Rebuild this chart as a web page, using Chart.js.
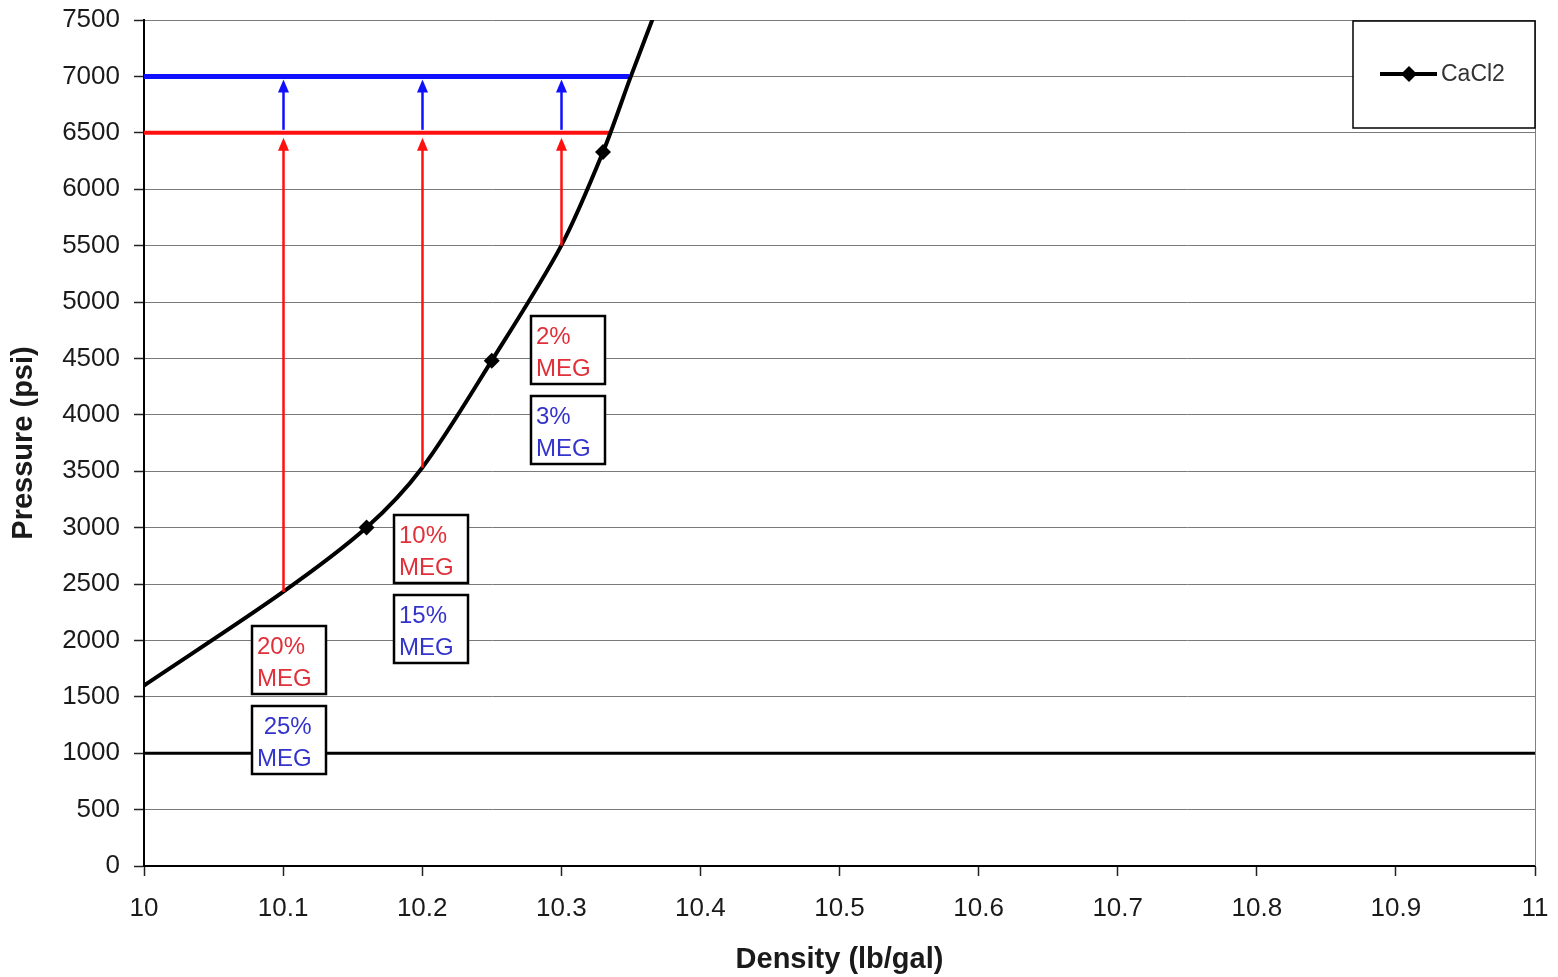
<!DOCTYPE html>
<html>
<head>
<meta charset="utf-8">
<script src="https://cdn.jsdelivr.net/npm/chart.js@4/dist/chart.umd.min.js"></script>
<style>
  html, body { margin: 0; padding: 0; background: #ffffff; }
  #wrap { width: 1558px; height: 977px; position: relative; }
</style>
</head>
<body>
<div id="wrap"><canvas id="c" width="1558" height="977"></canvas></div>
<script>
// ---- data ----
const xTickValues = [10, 10.1, 10.2, 10.3, 10.4, 10.5, 10.6, 10.7, 10.8, 10.9, 11];
const xTickLabels = ['10', '10.1', '10.2', '10.3', '10.4', '10.5', '10.6', '10.7', '10.8', '10.9', '11'];
const yTickValues = [0, 500, 1000, 1500, 2000, 2500, 3000, 3500, 4000, 4500, 5000, 5500, 6000, 6500, 7000, 7500];

const seriesName = 'CaCl2';
const densities = [10, 10.1, 10.16, 10.2, 10.25, 10.3, 10.33, 10.35, 10.37];
const pressures = [1600, 2430, 3000, 3530, 4480, 5500, 6330, 7000, 7650];
const markerShown = [false, false, true, false, true, false, true, false, false];

const redLevel = 6500;
const redLineEnd = 10.335;
const blueLevel = 7000;
const blueLineEnd = 10.349;
const referenceLevel = 1000;

const arrowDensities = [10.1, 10.2, 10.3];
const arrowBasePressures = [2430, 3530, 5500];

const redLabels = ['20%', '10%', '2%'];
const blueLabels = [' 25%', '15%', '3%'];
const secondLine = 'MEG';

// ---- layout of the text boxes (data coordinates of top-left corner) ----
const boxLeftX = [10.0775, 10.1795, 10.278];
const redBoxTopY = [2128, 3112, 4880];
const blueBoxTopY = [1418, 2402, 4170];

const FONT = '"Liberation Sans", Arial, sans-serif';
const RED = '#ff1010';
const BLUE = '#1010ff';
const RED_TEXT = '#e0303a';
const BLUE_TEXT = '#3434cc';

const curvePoints = densities.map((x, i) => ({ x, y: pressures[i] }));

const extrasPlugin = {
  id: 'extras',
  afterDatasetsDraw(chart) {
    const { ctx, chartArea: a, scales: { x, y } } = chart;
    ctx.save();
    // right border of plot area
    ctx.strokeStyle = '#808080';
    ctx.lineWidth = 1;
    ctx.beginPath();
    ctx.moveTo(a.right + 0.5, a.top);
    ctx.lineTo(a.right + 0.5, a.bottom);
    ctx.stroke();

    // arrows
    function arrow(px, yFrom, yTip, color, w) {
      const headLen = 13, headHalf = 5.5;
      ctx.strokeStyle = color;
      ctx.fillStyle = color;
      ctx.lineWidth = w;
      ctx.beginPath();
      ctx.moveTo(px, yFrom);
      ctx.lineTo(px, yTip + headLen - 1);
      ctx.stroke();
      ctx.beginPath();
      ctx.moveTo(px, yTip);
      ctx.lineTo(px - headHalf, yTip + headLen);
      ctx.lineTo(px + headHalf, yTip + headLen);
      ctx.closePath();
      ctx.fill();
    }
    arrowDensities.forEach((d, i) => {
      const px = Math.round(x.getPixelForValue(d)) + 0.5;
      arrow(px, y.getPixelForValue(arrowBasePressures[i]), y.getPixelForValue(redLevel) + 5, RED, 2.5);
      arrow(px, y.getPixelForValue(redLevel) - 3, y.getPixelForValue(blueLevel) + 3, BLUE, 2.5);
    });

    // text boxes
    function box(dx, dy, l1, l2, color) {
      const px = Math.round(x.getPixelForValue(dx));
      const py = Math.round(y.getPixelForValue(dy));
      const w = 74, h = 68;
      ctx.fillStyle = '#ffffff';
      ctx.fillRect(px, py, w, h);
      ctx.strokeStyle = '#000000';
      ctx.lineWidth = 2.5;
      ctx.strokeRect(px, py, w, h);
      ctx.fillStyle = color;
      ctx.font = '24px ' + FONT;
      ctx.textAlign = 'left';
      ctx.textBaseline = 'alphabetic';
      ctx.fillText(l1, px + 5, py + 28);
      ctx.fillText(l2, px + 5, py + 60);
    }
    boxLeftX.forEach((bx, i) => {
      box(bx, redBoxTopY[i], redLabels[i], secondLine, RED_TEXT);
      box(bx, blueBoxTopY[i], blueLabels[i], secondLine, BLUE_TEXT);
    });

    // legend
    const lx = 1353, ly = 21, lw = 182, lh = 107;
    ctx.fillStyle = '#ffffff';
    ctx.fillRect(lx, ly, lw, lh);
    ctx.strokeStyle = '#000000';
    ctx.lineWidth = 1.5;
    ctx.strokeRect(lx, ly, lw, lh);
    const cy = 74;
    ctx.strokeStyle = '#000000';
    ctx.lineWidth = 4;
    ctx.beginPath();
    ctx.moveTo(1380, cy);
    ctx.lineTo(1437, cy);
    ctx.stroke();
    ctx.fillStyle = '#000000';
    ctx.beginPath();
    ctx.moveTo(1409, cy - 8);
    ctx.lineTo(1417, cy);
    ctx.lineTo(1409, cy + 8);
    ctx.lineTo(1401, cy);
    ctx.closePath();
    ctx.fill();
    ctx.fillStyle = '#333333';
    ctx.font = '23px ' + FONT;
    ctx.textAlign = 'left';
    ctx.textBaseline = 'middle';
    ctx.fillText(chart.data.datasets[0].label, 1441, cy + 1);
    ctx.restore();
  }
};

new Chart(document.getElementById('c'), {
  type: 'scatter',
  data: {
    datasets: [
      {
        label: seriesName,
        data: curvePoints,
        showLine: true,
        borderColor: '#000000',
        backgroundColor: '#000000',
        borderWidth: 4,
        tension: 0.3,
        pointStyle: 'rectRot',
        pointRadius: markerShown.map(m => (m ? 8 : 0)),
        pointBorderWidth: 0
      },
      {
        label: 'red',
        data: [{ x: xTickValues[0], y: redLevel }, { x: redLineEnd, y: redLevel }],
        showLine: true,
        borderColor: RED,
        borderWidth: 4,
        pointRadius: 0
      },
      {
        label: 'blue',
        data: [{ x: xTickValues[0], y: blueLevel }, { x: blueLineEnd, y: blueLevel }],
        showLine: true,
        borderColor: BLUE,
        borderWidth: 5,
        pointRadius: 0
      },
      {
        label: 'ref',
        data: [{ x: xTickValues[0], y: referenceLevel }, { x: xTickValues[xTickValues.length - 1], y: referenceLevel }],
        showLine: true,
        borderColor: '#000000',
        borderWidth: 3,
        pointRadius: 0
      }
    ]
  },
  options: {
    responsive: false,
    animation: false,
    events: [],
    layout: { padding: { top: 20, right: 23, left: 0, bottom: 0 } },
    plugins: { legend: { display: false }, tooltip: { enabled: false } },
    scales: {
      x: {
        type: 'linear',
        min: xTickValues[0],
        max: xTickValues[xTickValues.length - 1],
        afterBuildTicks: s => { s.ticks = xTickValues.map(v => ({ value: v })); },
        afterFit: s => { s.height = 111; s.paddingLeft = 0; s.paddingRight = 0; },
        ticks: {
          autoSkip: false,
          maxRotation: 0,
          padding: 17,
          color: '#1a1a1a',
          font: { family: FONT, size: 26 },
          callback: (v, i) => xTickLabels[i]
        },
        grid: { drawOnChartArea: false, tickLength: 10, tickColor: '#222222', tickWidth: 1.5 },
        border: { color: '#000000', width: 2 },
        title: {
          display: true,
          text: 'Density (lb/gal)',
          color: '#1a1a1a',
          font: { family: FONT, size: 29, weight: 'bold' },
          padding: { top: 0, bottom: 0 }
        }
      },
      y: {
        type: 'linear',
        min: yTickValues[0],
        max: yTickValues[yTickValues.length - 1],
        afterBuildTicks: s => { s.ticks = yTickValues.map(v => ({ value: v })); },
        afterFit: s => { s.width = 144; s.paddingTop = 0; s.paddingBottom = 0; },
        ticks: {
          autoSkip: false,
          padding: 14,
          color: '#1a1a1a',
          font: { family: FONT, size: 26 },
          callback: v => String(v)
        },
        grid: { color: '#7a7a7a', lineWidth: 1, tickLength: 10, tickColor: '#222222', tickWidth: 1.5 },
        border: { color: '#000000', width: 2 },
        title: {
          display: true,
          text: 'Pressure (psi)',
          color: '#1a1a1a',
          font: { family: FONT, size: 29, weight: 'bold' },
          padding: { top: 7, bottom: 0 }
        }
      }
    }
  },
  plugins: [extrasPlugin]
});
</script>
</body>
</html>
